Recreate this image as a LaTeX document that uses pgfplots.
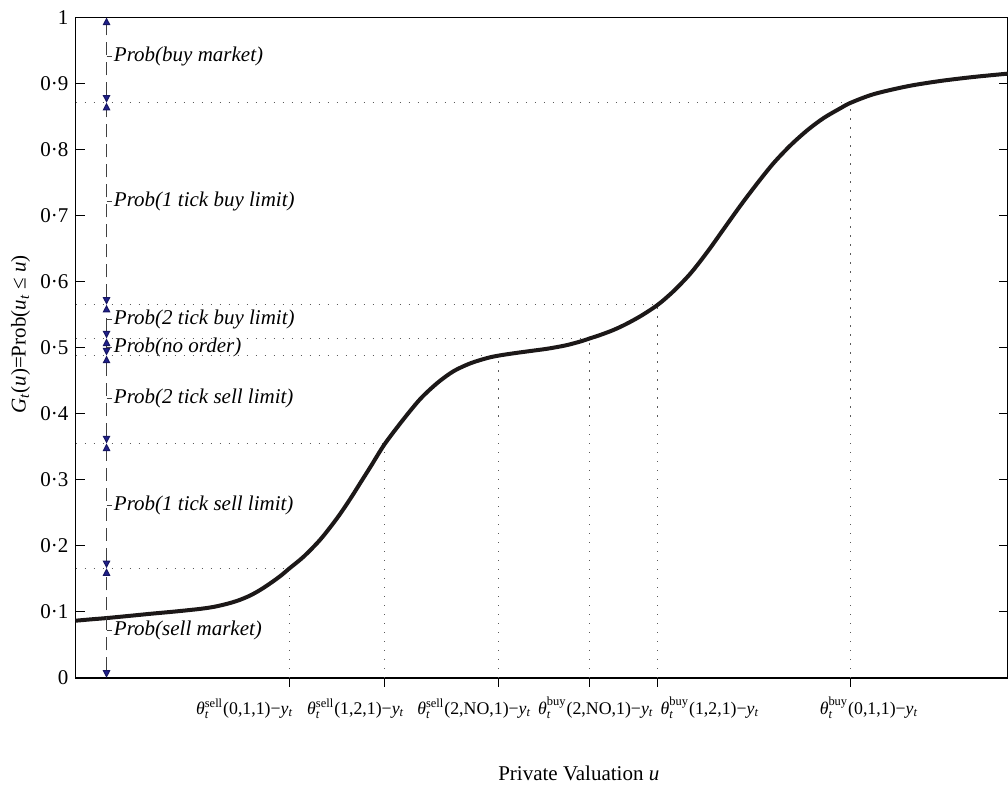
\documentclass[border=0pt]{standalone}
\usepackage{fontspec}
\setmainfont{Liberation Serif}
\usepackage{amsmath}
\usepackage{pgfplots}
\pgfplotsset{compat=1.18}
\usetikzlibrary{arrows.meta}
\definecolor{arrowblue}{RGB}{32,32,140}
\definecolor{curvecol}{RGB}{28,24,24}
\definecolor{dotcol}{RGB}{90,90,90}
\newcommand{\thlab}[2]{\textit{θ}$^{\text{#1}}_{\textit{t}}$#2−\textit{y}$_{\textit{t}}$}
\newcommand{\problab}[2]{%
  \draw[black!75, line width=0.5pt] (axis cs:106,#1) -- (axis cs:111,#1);
  \node[anchor=west, inner sep=1pt, font=\fontsize{10.5}{12.6}\selectfont\itshape] at (axis cs:111,#1) {#2};}
\newcommand{\ticklab}[2]{\node[anchor=base, inner sep=0pt, yshift=-18.5pt, font=\fontsize{8.9}{11}\selectfont] at (axis cs:#1,0) {#2};}
\begin{document}
\begin{tikzpicture}[font=\fontsize{10.5}{12.6}\selectfont,
  darr/.style={draw=black!75, line width=0.5pt, dash pattern=on 6.5pt off 3.5pt, {Triangle[length=3.8pt,width=3.8pt,fill=arrowblue,color=arrowblue!70!black]}-{Triangle[length=3.8pt,width=3.8pt,fill=arrowblue,color=arrowblue!70!black]}},
  dotl/.style={dotcol, line width=0.5pt, dash pattern=on 0.6pt off 3.9pt}]
\begin{axis}[
  name=ax,
  scale only axis,
  width=466pt, height=330pt,
  xmin=75, xmax=1007, ymin=0, ymax=1,
  clip=false,
  axis line style={line width=0.8pt, black},
  xtick={289,384,498,589,657,850},
  xticklabels={},
  xtick pos=left,
  xtick align=outside,
  ytick={0,0.1,0.2,0.3,0.4,0.5,0.6,0.7,0.8,0.9,1},
  yticklabels={0,0·1,0·2,0·3,0·4,0·5,0·6,0·7,0·8,0·9,1},
  ytick pos=both,
  yticklabel pos=left,
  ytick align=inside,
  major tick length=4.5pt,
  tick style={line width=0.5pt, black},
  ylabel={\textit{G}$_{\textit{t}}$(\textit{u})=Prob(\textit{u}$_{\textit{t}}$ ≤ \textit{u})},
  ylabel style={at={(axis description cs:-0.059,0.52)}, anchor=center},
]
% dotted guide lines
\addplot[dotl] coordinates {(75,0.871) (850,0.871)};
\addplot[dotl] coordinates {(850,0) (850,0.871)};
\addplot[dotl] coordinates {(75,0.565) (657,0.565)};
\addplot[dotl] coordinates {(657,0) (657,0.565)};
\addplot[dotl] coordinates {(75,0.514) (589,0.514)};
\addplot[dotl] coordinates {(589,0) (589,0.514)};
\addplot[dotl] coordinates {(75,0.488) (498,0.488)};
\addplot[dotl] coordinates {(498,0) (498,0.488)};
\addplot[dotl] coordinates {(75,0.355) (384,0.355)};
\addplot[dotl] coordinates {(384,0) (384,0.355)};
\addplot[dotl] coordinates {(75,0.166) (289,0.166)};
\addplot[dotl] coordinates {(289,0) (289,0.166)};
% main curve
\addplot[curvecol, line width=2pt, smooth] coordinates {
(75,0.0865) (90,0.0885) (106,0.0905) (130,0.094) (150,0.097) (175,0.1005)
(200,0.1045) (215,0.108) (230,0.1135) (240,0.1185) (250,0.125) (260,0.1335)
(270,0.1435) (280,0.1545) (289,0.166) (303,0.1835) (320,0.210) (337,0.243)
(350,0.272) (360,0.296) (370,0.320) (384,0.354) (403,0.392) (420,0.423)
(437,0.447) (453,0.4645) (470,0.4765) (487,0.4845) (498,0.488) (513,0.4915)
(530,0.495) (547,0.4985) (565,0.5035) (580,0.5095) (589,0.514) (600,0.5195)
(613,0.527) (625,0.5355) (640,0.548) (657,0.565) (673,0.586) (690,0.613)
(707,0.646) (723,0.680) (740,0.716) (757,0.750) (773,0.780) (790,0.807)
(807,0.830) (823,0.848) (840,0.863) (850,0.871) (873,0.884) (907,0.896)
(940,0.904) (973,0.910) (1007,0.915)};
% double arrows
\draw[darr] (axis cs:106,0) -- (axis cs:106,0.166);
\draw[darr] (axis cs:106,0.166) -- (axis cs:106,0.355);
\draw[darr] (axis cs:106,0.355) -- (axis cs:106,0.488);
\draw[darr] (axis cs:106,0.488) -- (axis cs:106,0.514);
\draw[darr] (axis cs:106,0.514) -- (axis cs:106,0.565);
\draw[darr] (axis cs:106,0.565) -- (axis cs:106,0.871);
\draw[darr] (axis cs:106,0.871) -- (axis cs:106,1);
% labels
\problab{0.941}{Prob(buy market)}
\problab{0.722}{Prob(1 tick buy limit)}
\problab{0.542}{Prob(2 tick buy limit)}
\problab{0.501}{Prob(no order)}
\problab{0.423}{Prob(2 tick sell limit)}
\problab{0.261}{Prob(1 tick sell limit)}
\problab{0.071}{Prob(sell market)}
% x tick labels
\ticklab{244}{\thlab{sell}{(0,1,1)}}
\ticklab{355}{\thlab{sell}{(1,2,1)}}
\ticklab{473.5}{\thlab{sell}{(2,NO,1)}}
\ticklab{595}{\thlab{buy}{(2,NO,1)}}
\ticklab{709}{\thlab{buy}{(1,2,1)}}
\ticklab{868}{\thlab{buy}{(0,1,1)}}
% x label
\node[anchor=base, inner sep=0pt, yshift=-51.5pt] at (axis cs:578,0) {Private Valuation \textit{u}};
\end{axis}
\pgfresetboundingbox
\path[use as bounding box] ([xshift=-37.75pt,yshift=-53.75pt]ax.south west) rectangle ([yshift=8.75pt]ax.north east);
\end{tikzpicture}
\end{document}
